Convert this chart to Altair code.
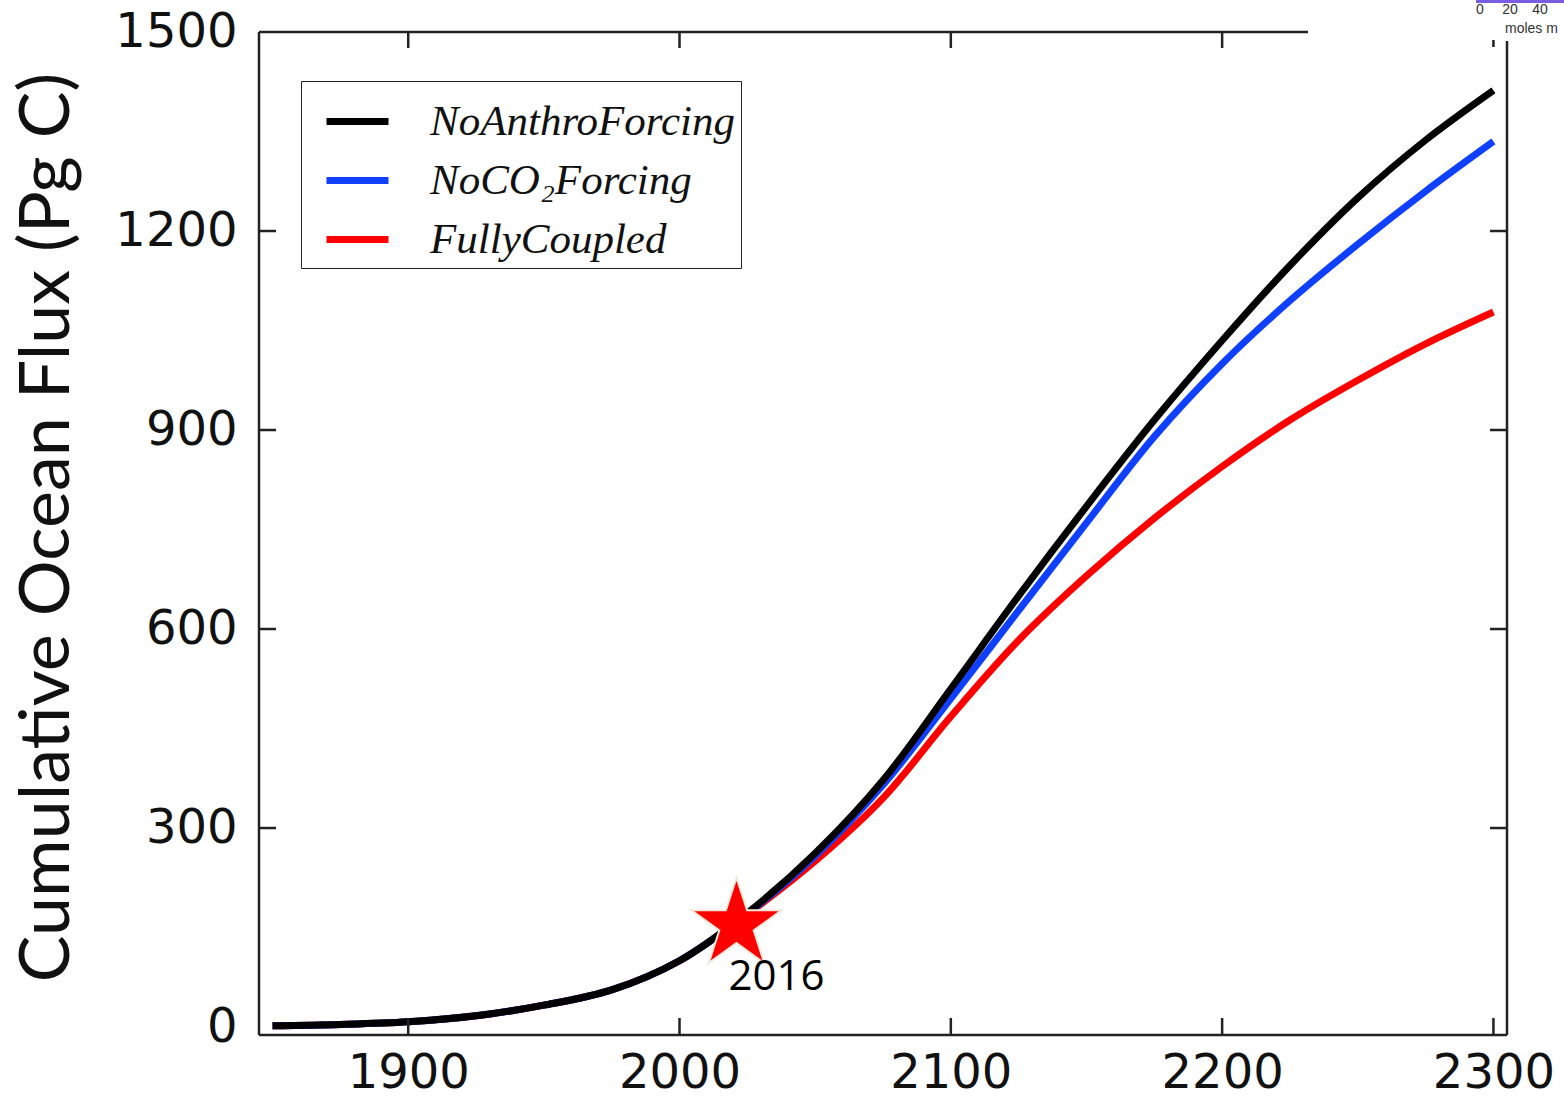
import altair as alt
import pandas as pd

# ---------------- data ----------------
years = [1850, 1875, 1900, 1925, 1950, 1975, 2000, 2025, 2050, 2075, 2100,
         2125, 2150, 2175, 2200, 2225, 2250, 2275, 2300]
no_anthro = [2, 4, 8, 17, 33, 56, 100, 172, 262, 372, 510, 650, 785, 915,
             1035, 1148, 1250, 1337, 1412]
no_co2 = [2, 4, 8, 17, 33, 56, 100, 171, 258, 365, 495, 628, 760, 890,
          1000, 1095, 1180, 1260, 1335]
fully_coupled = [2, 4, 8, 17, 33, 56, 100, 170, 250, 345, 468, 583, 680, 767,
                 845, 915, 975, 1030, 1078]
series_names = ["NoAnthroForcing", "NoCO₂Forcing", "FullyCoupled"]
series_colors = ["#000000", "#1040ff", "#ff0000"]

x_ticks = [1900, 2000, 2100, 2200, 2300]
y_ticks = [0, 300, 600, 900, 1200, 1500]
y_inner_ticks = [300, 600, 900, 1200]

star_year = [2021]
star_value = [154]
star_label = ["2016"]

cbar_labels = ["0", "20", "40"]
cbar_unit = "moles m"

STAR_PATH = ("M0,-1L0.2245,-0.309L0.951,-0.309L0.3633,0.118L0.5878,0.809"
             "L0,0.382L-0.5878,0.809L-0.3633,0.118L-0.951,-0.309L-0.2245,-0.309Z")

# ---------------- tables ----------------
rows = []
for name, vals in zip(series_names, [no_anthro, no_co2, fully_coupled]):
    for yr, v in zip(years, vals):
        rows.append({"year": yr, "flux": v, "run": name})
df = pd.DataFrame(rows)

W, H = 1248, 1003
xs = alt.Scale(domain=[1845, 2305], nice=False, zero=False)
ys = alt.Scale(domain=[-12, 1500], nice=False, zero=False)
color_scale = alt.Scale(domain=series_names, range=series_colors)

xaxis = alt.Axis(values=x_ticks, format="d", labelFont="DejaVu Sans",
                 labelFontSize=48, labelColor="#111", labelPadding=14,
                 ticks=False, domain=False, grid=False, title=None)
yaxis = alt.Axis(values=y_ticks, format="d", labelFont="DejaVu Sans",
                 labelFontSize=48, labelColor="#111", labelPadding=22,
                 ticks=False, domain=False, grid=False,
                 title="Cumulative Ocean Flux (Pg C)",
                 titleFont="Lato", titleFontSize=70,
                 titleFontWeight="normal", titleColor="#111",
                 titleAngle=270, titleX=-212, titleY=495,
                 titleAlign="center", titleBaseline="middle")

legend = alt.Legend(title=None, orient="none", legendX=42, legendY=49,
                    symbolType="stroke", symbolStrokeWidth=7,
                    symbolSize=3844, symbolOffset=16,
                    labelFont="Liberation Serif",
                    labelFontStyle="italic", labelFontSize=43,
                    labelColor="#111", labelOffset=38, labelLimit=0,
                    padding=6, rowPadding=2, strokeColor="#222",
                    fillColor="white")

base = alt.Chart(df)
layers = []
for name in reversed(series_names):
    layers.append(
        base.transform_filter(alt.datum.run == name)
        .mark_line(strokeWidth=7, interpolate="catmull-rom")
        .encode(x=alt.X("year:Q", scale=xs, axis=xaxis),
                y=alt.Y("flux:Q", scale=ys, axis=yaxis),
                color=alt.Color("run:N", scale=color_scale, legend=legend))
    )

# star marker and label
star_df = pd.DataFrame({"year": star_year, "flux": star_value, "label": star_label})
star = alt.Chart(star_df).mark_point(shape=STAR_PATH, filled=True, size=8950,
                                     fill="#ff0000", stroke="#efeadb",
                                     strokeWidth=2, opacity=1).encode(
    x=alt.X("year:Q", scale=xs), y=alt.Y("flux:Q", scale=ys))
star_text = alt.Chart(star_df).mark_text(font="Open Sans", fontSize=42,
                                         color="#000", dx=40, dy=52,
                                         align="center", baseline="middle").encode(
    x=alt.X("year:Q", scale=xs), y=alt.Y("flux:Q", scale=ys), text="label:N")

# frame and inward ticks
frame_col = "#222"
xt = pd.DataFrame({"year": x_ticks})
xt_top = pd.DataFrame({"year": [t for t in x_ticks if t < 2300]})
xt_last = pd.DataFrame({"year": [x_ticks[-1]]})
yt = pd.DataFrame({"v": y_inner_ticks})

bottom_ticks = alt.Chart(xt).mark_rule(color=frame_col, strokeWidth=2.5).encode(
    x=alt.X("year:Q", scale=xs), y=alt.value(H), y2=alt.value(H - 17))
top_ticks = alt.Chart(xt_top).mark_rule(color=frame_col, strokeWidth=2.5).encode(
    x=alt.X("year:Q", scale=xs), y=alt.value(0), y2=alt.value(16))
top_last = alt.Chart(xt_last).mark_rule(color=frame_col, strokeWidth=2.5).encode(
    x=alt.X("year:Q", scale=xs), y=alt.value(8), y2=alt.value(15))
left_ticks = alt.Chart(yt).mark_rule(color=frame_col, strokeWidth=2.5).encode(
    y=alt.Y("v:Q", scale=ys), x=alt.value(0), x2=alt.value(17))
right_ticks = alt.Chart(yt).mark_rule(color=frame_col, strokeWidth=2.5).encode(
    y=alt.Y("v:Q", scale=ys), x=alt.value(W), x2=alt.value(W - 17))

one = pd.DataFrame({"a": [0]})
left_border = alt.Chart(one).mark_rule(color=frame_col, strokeWidth=2.5).encode(
    x=alt.value(0), y=alt.value(0), y2=alt.value(H))
bottom_border = alt.Chart(one).mark_rule(color=frame_col, strokeWidth=2.5).encode(
    x=alt.value(0), x2=alt.value(W), y=alt.value(H))
top_border = alt.Chart(one).mark_rule(color=frame_col, strokeWidth=2.5).encode(
    x=alt.value(0), x2=alt.value(1049), y=alt.value(0))
right_border = alt.Chart(one).mark_rule(color=frame_col, strokeWidth=2.5).encode(
    x=alt.value(W), y=alt.value(9), y2=alt.value(H))

# colour-bar fragment at top right
cbar = alt.Chart(one).mark_rect(color="#7a5ce0").encode(
    x=alt.value(1217), x2=alt.value(1310), y=alt.value(-32), y2=alt.value(-29))
cbar_texts = []
for lab, px in zip(cbar_labels, [1221, 1251, 1281]):
    cbar_texts.append(
        alt.Chart(one).mark_text(text=lab, font="Liberation Sans", fontSize=14,
                                 color="#333", align="center",
                                 baseline="middle").encode(
            x=alt.value(px), y=alt.value(-22)))
moles = alt.Chart(one).mark_text(
    text=cbar_unit, font="Liberation Sans", fontSize=14, color="#333",
    align="left", baseline="middle").encode(x=alt.value(1246), y=alt.value(-3))

chart = alt.layer(
    *layers, star, star_text,
    bottom_ticks, top_ticks, top_last, left_ticks, right_ticks,
    left_border, bottom_border, top_border, right_border,
    cbar, *cbar_texts, moles
).properties(
    width=W, height=H,
    autosize=alt.AutoSizeParams(type="none"),
    padding={"left": 259, "top": 32, "right": 57, "bottom": 62},
    background="white"
).configure_view(stroke=None)

chart.save("out.html", embed_options={"renderer": "svg", "actions": False})
